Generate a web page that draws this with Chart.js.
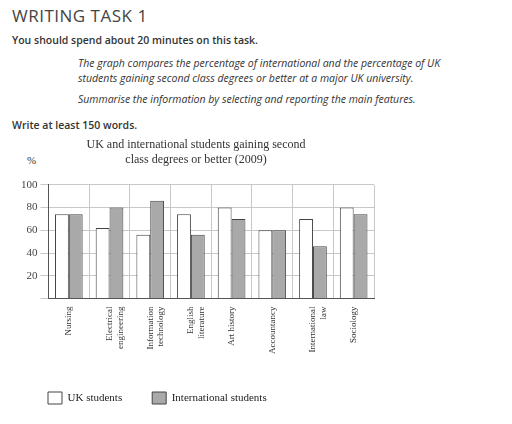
<!DOCTYPE html><html><head><meta charset="utf-8">
<script src="https://cdn.jsdelivr.net/npm/chart.js@4"></script>
<style>
body{margin:0;width:512px;height:424px;background:#fff;position:relative;overflow:hidden;font-family:"Open Sans",sans-serif;color:#333}
.t{position:absolute;white-space:nowrap}
#wrap{position:absolute;left:0;top:138px;width:380px;height:276px}
</style></head><body>
<div class="t" style="left:12px;top:4px;font-size:17px;letter-spacing:0.5px;color:#444">WRITING TASK 1</div>
<div class="t" style="left:12px;top:33px;font-size:10.5px;font-weight:600">You should spend about 20 minutes on this task.</div>
<div class="t" style="left:78px;top:56px;font-size:10.5px;font-style:italic;line-height:15px">The graph compares the percentage of international and the percentage of UK<br>students gaining second class degrees or better at a major UK university.</div>
<div class="t" style="left:78px;top:92px;font-size:10.5px;font-style:italic">Summarise the information by selecting and reporting the main features.</div>
<div class="t" style="left:12px;top:118px;font-size:10.5px;font-weight:600">Write at least 150 words.</div>
<div class="t" style="left:27px;top:154px;font-size:11px;font-family:'Liberation Serif'">%</div>
<div id="wrap"><canvas id="c"></canvas></div>
<script>
const categories=[["Nursing"],["Electrical","engineering"],["Information","technology"],["English","literature"],["Art history"],["Accountancy"],["International","law"],["Sociology"]];
const ukStudents=[74,62,56,74,80,60,70,80];
const intlStudents=[74,80,86,56,70,60,46,74];
const yTicks=[20,40,60,80,100];
Chart.defaults.font.family="'Liberation Serif'";
Chart.defaults.color="#333";
new Chart(document.getElementById('c'),{type:'bar',
data:{labels:categories,datasets:[
{label:'UK students',data:ukStudents,backgroundColor:'#fff',borderColor:'#444',borderWidth:1,barPercentage:1,categoryPercentage:0.68},
{label:'International students',data:intlStudents,backgroundColor:'#a9a9a9',borderColor:'#444',borderWidth:1,barPercentage:1,categoryPercentage:0.68}]},
options:{responsive:true,maintainAspectRatio:false,animation:false,
layout:{padding:{left:18,right:6,top:0,bottom:0}},
plugins:{title:{display:true,text:['UK and international students gaining second','class degrees or better (2009)'],font:{size:12,weight:'normal'},color:'#333',padding:{top:0,bottom:18}},
legend:{position:'bottom',align:'start',labels:{boxWidth:14,boxHeight:12,padding:30,font:{size:11},color:'#222'}},tooltip:{enabled:false}},
scales:{x:{grid:{color:'#c8c8c8',drawTicks:false},border:{color:'#555'},ticks:{maxRotation:90,minRotation:90,font:{size:9},padding:8,color:'#333'}},
y:{min:0,max:100,afterBuildTicks:a=>{a.ticks=[0,...yTicks].map(v=>({value:v}))},ticks:{font:{size:11},color:'#444',callback:v=>v===0?'':v},grid:{color:'#c8c8c8'},border:{color:'#555'}}}}});
</script></body></html>
